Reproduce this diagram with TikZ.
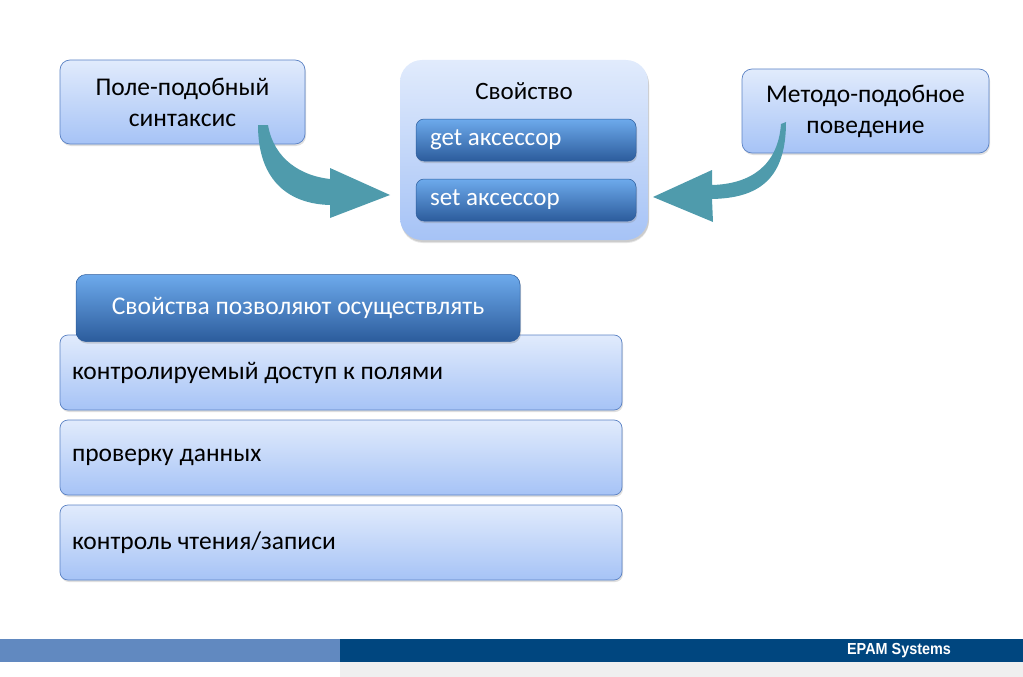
\documentclass[tikz,border=0pt]{standalone}
\usepackage{fontspec}
\setmainfont{Carlito}
\newfontfamily\epamfont{Liberation Sans}
\usetikzlibrary{shadows}

\definecolor{boxtop}{HTML}{E1EBFC}
\definecolor{boxbot}{HTML}{A6C3F6}
\definecolor{boxline}{HTML}{5B82C4}
\definecolor{acctop}{HTML}{6DAAEC}
\definecolor{accbot}{HTML}{2C5C9C}
\definecolor{arrowcol}{HTML}{4F9BAC}
\definecolor{barlight}{HTML}{6189C0}
\definecolor{bardark}{HTML}{00467F}
\definecolor{bargrey}{HTML}{EFEFEF}

\tikzset{
	lightbox/.style={rectangle, rounded corners=10pt, top color=boxtop, bottom color=boxbot,
		draw=boxline, line width=0.7pt, inner sep=0pt,
		drop shadow={opacity=0.25, shadow xshift=1pt, shadow yshift=-2pt}},
	darkbox/.style={rectangle, rounded corners=8pt, top color=acctop, bottom color=accbot,
		draw=accbot, line width=0.5pt, inner sep=0pt, text=white,
		drop shadow={opacity=0.3, shadow xshift=1pt, shadow yshift=-2pt}},
	toptext/.style={align=center, font=\fontsize{25.5}{31}\selectfont},
	rowtext/.style={text width=538pt, align=flush left, font=\fontsize{25.5}{30}\selectfont},
}

\begin{document}
\begin{tikzpicture}[x=1pt,y=-1pt]
	\useasboundingbox (0,0) rectangle (1023,677);
	\node [lightbox, toptext, minimum width=245pt, minimum height=84pt] (field) at (182.5,102)
		{Поле-подобный\\синтаксис};
	\node [lightbox, toptext, minimum width=247pt, minimum height=84pt] (method) at (865.5,111)
		{Методо-подобное\\поведение};
	\node [lightbox, draw=none, rounded corners=22pt, minimum width=248pt, minimum height=180pt,
		drop shadow={opacity=0.2, shadow xshift=1pt, shadow yshift=-3pt}] (prop) at (524,150) {};
	\node [font=\fontsize{25}{28}\selectfont] (proptitle) at (524,91) {Свойство};
	\node [darkbox, minimum width=220pt, minimum height=42pt, text width=192pt, align=flush left,
		font=\fontsize{25}{28}\selectfont] (get) at (526,140) {get аксессор};
	\node [darkbox, minimum width=220pt, minimum height=42pt, text width=192pt, align=flush left,
		font=\fontsize{25}{28}\selectfont] (set) at (526,200) {set аксессор};
	\fill [arrowcol]
		(258,125) .. controls (258,182) and (290,204) .. (330,205) -- (330,218) -- (390,195)
		-- (330,168) -- (330,179) .. controls (302,176) and (274,160) .. (268,125) -- cycle;
	\fill [arrowcol]
		(786,122) .. controls (786,178) and (760,198) .. (712,199) -- (713,222) -- (653,197)
		-- (712,170) -- (712,185) .. controls (750,184) and (778,166) .. (781,124) -- cycle;
	\node [lightbox, rowtext, rounded corners=8pt, minimum width=562pt, minimum height=75pt] (row1)
		at (341,372.5) {контролируемый доступ к полями};
	\node [lightbox, rowtext, rounded corners=8pt, minimum width=562pt, minimum height=75pt] (row2)
		at (341,457.5) {проверку данных};
	\node [lightbox, rowtext, rounded corners=8pt, minimum width=562pt, minimum height=75pt] (row3)
		at (341,542.5) {контроль чтения/записи};
	\node [darkbox, rounded corners=10pt, minimum width=444pt, minimum height=67pt,
		font=\fontsize{25.5}{30}\selectfont] (head) at (298,308) {Свойства позволяют осуществлять};
	\fill [barlight] (0,639) rectangle (340,662);
	\fill [bardark] (340,639) rectangle (1023,662);
	\fill [bargrey] (340,662) rectangle (1023,677);
	\node [text=white, font=\epamfont\bfseries\fontsize{16}{18}\selectfont] (epam) at (899,651)
		{\scalebox{0.9}[1]{EPAM Systems}};
\end{tikzpicture}
\end{document}
